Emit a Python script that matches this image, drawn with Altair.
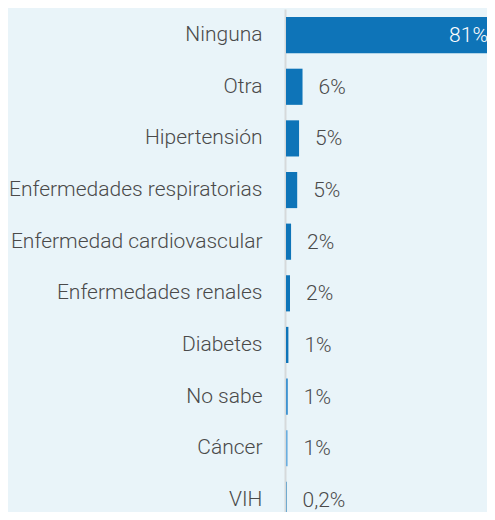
import altair as alt
import pandas as pd

categories = ["Ninguna", "Otra", "Hipertensión", "Enfermedades respiratorias",
              "Enfermedad cardiovascular", "Enfermedades renales", "Diabetes",
              "No sabe", "Cáncer", "VIH"]
values = [81, 6.2, 4.9, 4.2, 1.9, 1.5, 0.9, 0.7, 0.6, 0.2]
labels = ["81%", "6%", "5%", "5%", "2%", "2%", "1%", "1%", "1%", "0,2%"]
bar_colors = ["#0e74b8", "#0e74b8", "#0e74b8", "#0e74b8", "#0e74b8",
              "#0e74b8", "#0e74b8", "#3f93d0", "#6aaedf", "#0e74b8"]

df = pd.DataFrame({"cat": categories, "val": values, "lab": labels,
                   "col": bar_colors, "inside": [c == "Ninguna" for c in categories]})

FONT = "Roboto"
TXT = "#4a4a4a"

y = alt.Y("cat:N", sort=categories, title=None,
          scale=alt.Scale(paddingInner=0.3, paddingOuter=0.156, range=[0, 517]),
          axis=alt.Axis(labelFont=FONT, labelFontSize=21, labelFontWeight=300,
                        labelColor=TXT, ticks=False, tickSize=0, labelPadding=23,
                        domainColor="#d6d9db", domainWidth=2, offset=1, grid=False,
                        labelLimit=400))
x = alt.X("val:Q", title=None, axis=None,
          scale=alt.Scale(domain=[0, 75.4], nice=False, zero=True))

bars = alt.Chart(df).mark_bar(clip=True).encode(
    x=x, y=y, color=alt.Color("col:N", scale=None))

out_text = alt.Chart(df).transform_filter("!datum.inside").mark_text(
    align="left", baseline="middle", dx=16, dy=1, font=FONT, fontSize=21,
    fontWeight=300, color=TXT).encode(x=x, y=y, text="lab:N")

in_text = alt.Chart(df).transform_filter("datum.inside").mark_text(
    align="right", baseline="middle", dx=-14, dy=1, font=FONT, fontSize=21,
    fontWeight=300, color="white").encode(x=x, y=y, text="lab:N")

chart = alt.layer(bars, out_text, in_text).properties(
    width=201, height=503,
    autosize=alt.AutoSizeParams(type="none"),
    padding={"left": 278, "top": 1, "right": 0, "bottom": 0},
    background="#e9f4f9",
).configure_view(stroke=None)

chart.save("out.html", embed_options={"renderer": "svg", "actions": False})
